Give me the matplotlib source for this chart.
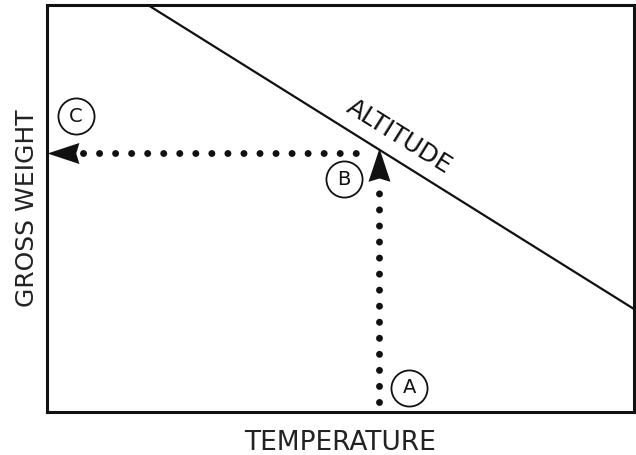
import matplotlib
matplotlib.use("Agg")
import matplotlib.pyplot as plt
from matplotlib.path import Path
import numpy as np

# Data (abstract 0-100 scales)
altitude_x = [17.2, 100.0]
altitude_y = [100.0, 25.3]
temp_A = 56.6          # temperature reading (point A)
weight_C = 63.6        # resulting gross weight (point C)
vert_tip = 64.9        # y where vertical arrow meets the altitude line
vert_dots_y = [2.5, 57.0]      # dotted vertical segment
horiz_dots_x = [6.2, 54.5]     # dotted horizontal segment
labels = ["A", "B", "C"]
label_x = [61.7, 50.6, 4.9]
label_y = [5.9, 57.2, 72.7]

plt.rcParams['font.family'] = ['DejaVu Sans']
INK = '#111111'

fig = plt.figure(figsize=(6.36, 4.55), dpi=100)
ax = fig.add_axes([47/636, 43/455, 587/636, 407/455])
ax.set_xlim(0, 100)
ax.set_ylim(0, 100)
ax.set_xticks([])
ax.set_yticks([])
for s in ax.spines.values():
    s.set_linewidth(2.2)
    s.set_color(INK)

# altitude line
ax.plot(altitude_x, altitude_y, color=INK, lw=1.6, solid_capstyle='butt')
ax.text(60.0, 67.6, "ALTITUDE", rotation=-32, rotation_mode='anchor',
        ha='center', va='center', fontsize=18, color=INK)

# dotted lines
ax.plot([temp_A, temp_A], vert_dots_y, color=INK, lw=5,
        linestyle=(0, (0.01, 2.3)), dash_capstyle='round')
ax.plot(horiz_dots_x, [weight_C, weight_C], color=INK, lw=5,
        linestyle=(0, (0.01, 2.3)), dash_capstyle='round')

# notched arrow-head markers (tip at the marker origin)
def head(angle_deg):
    verts = np.array([[0, 0], [-1, 0.33], [-0.9, 0], [-1, -0.33], [0, 0]])
    a = np.deg2rad(angle_deg)
    R = np.array([[np.cos(a), -np.sin(a)], [np.sin(a), np.cos(a)]])
    v = verts @ R.T
    return Path(v, [Path.MOVETO, Path.LINETO, Path.LINETO, Path.LINETO, Path.CLOSEPOLY])

ax.plot([temp_A], [vert_tip], marker=head(90), markersize=48, color=INK,
        markeredgewidth=0, linestyle='none', clip_on=False)
ax.plot([0], [weight_C], marker=head(180), markersize=46, color=INK,
        markeredgewidth=0, linestyle='none', clip_on=False)

# circled labels
for lab, x, y in zip(labels, label_x, label_y):
    ax.plot([x], [y], marker='o', markersize=26, markerfacecolor='white',
            markeredgecolor=INK, markeredgewidth=1.3, clip_on=False)
    ax.text(x, y, lab, ha='center', va='center', fontsize=14, color=INK)

ax.set_xlabel("TEMPERATURE", fontsize=19, color='#222222', labelpad=13)
ax.set_ylabel("GROSS WEIGHT", fontsize=18, color='#222222', labelpad=6)

fig.savefig("out.png", dpi=100)
